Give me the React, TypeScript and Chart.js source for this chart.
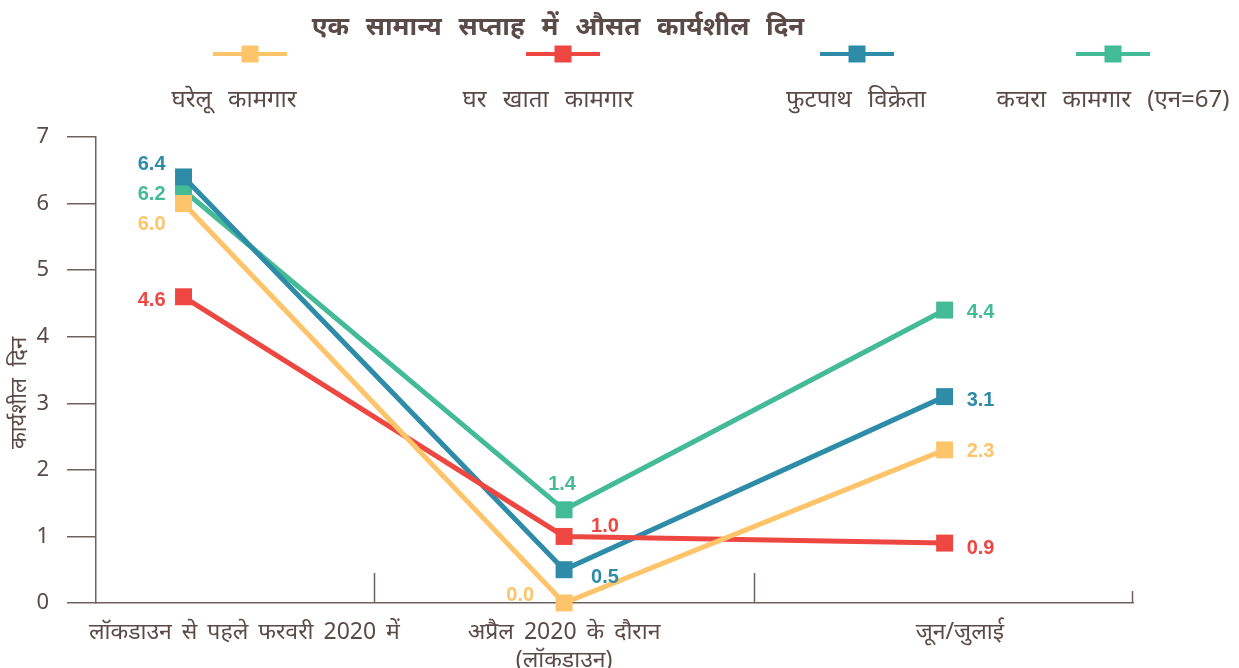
import React, { useEffect, useRef } from "react";
import { Chart, registerables } from "chart.js";

Chart.register(...registerables);

// ---------- data ----------
const chartTitle = "एक सामान्य सप्ताह में औसत कार्यशील दिन";
const yAxisTitle = "कार्यशील दिन";
const categories: string[][] = [
  ["लॉकडाउन से पहले फरवरी 2020 में"],
  ["अप्रैल 2020 के दौरान", "(लॉकडाउन)"],
  ["जून/जुलाई"],
];
const seriesNames = ["घरेलू कामगार", "घर खाता कामगार", "फुटपाथ विक्रेता", "कचरा कामगार (एन=67)"];
const domesticWorkers = [6.0, 0.0, 2.3];
const homeBasedWorkers = [4.6, 1.0, 0.9];
const streetVendors = [6.4, 0.5, 3.1];
const wastePickers = [6.2, 1.4, 4.4];
const yTickValues = [0, 1, 2, 3, 4, 5, 6, 7];

// ---------- style ----------
const colors = ["#FEC46A", "#EE4742", "#2E8CA8", "#44BB97"];
const textColor = "#5B4B48";
const axisColor = "#6E6260";
const FONT = "'Noto Sans', 'Noto Sans Devanagari', 'Lohit Devanagari', sans-serif";
const LABEL_FONT = "'Liberation Sans', Arial, sans-serif";
// label placement in category units (x) for the category tick labels
const categoryLabelPositions = [0.16, 1, 2.04];
// legend layout (pixels)
const legendMarkerX = [250, 563, 857, 1113];
const legendTextX = [234, 548, 856, 1113];
// data-label offsets [dx, dy, align] per series per point
const labelOffsets: [number, number, CanvasTextAlign][][] = [
  [[-18, 21, "right"], [-30, -8, "right"], [22, 2, "left"]],
  [[-18, 4, "right"], [27, -10, "left"], [22, 5, "left"]],
  [[-18, -12, "right"], [27, 8, "left"], [22, 4, "left"]],
  [[-18, 4, "right"], [-2, -25, "center"], [22, 2, "left"]],
];

const allSeries = [domesticWorkers, homeBasedWorkers, streetVendors, wastePickers];

const spacingPlugin = {
  id: "spacing",
  beforeDraw(chart: any) {
    (chart.ctx as any).wordSpacing = "4px";
  },
};

const overlayPlugin = {
  id: "overlay",
  afterDraw(chart: any) {
    const ctx: any = chart.ctx;
    const xs = chart.scales.x;
    const ys = chart.scales.y;
    ctx.save();

    // category separators
    ctx.strokeStyle = axisColor;
    ctx.lineWidth = 1.5;
    [0.5, 1.5].forEach((v) => {
      const px = Math.round(xs.getPixelForValue(v)) + 0.5;
      ctx.beginPath();
      ctx.moveTo(px, ys.bottom - 30);
      ctx.lineTo(px, ys.bottom);
      ctx.stroke();
    });
    const pe = Math.round(xs.right) - 0.5;
    ctx.beginPath();
    ctx.moveTo(pe, ys.bottom - 12);
    ctx.lineTo(pe, ys.bottom);
    ctx.stroke();

    // data labels
    ctx.wordSpacing = "0px";
    ctx.font = `bold 20px ${LABEL_FONT}`;
    ctx.textBaseline = "middle";
    chart.data.datasets.forEach((ds: any, di: number) => {
      const meta = chart.getDatasetMeta(di);
      meta.data.forEach((pt: any, pi: number) => {
        const [dx, dy, align] = labelOffsets[di][pi];
        ctx.fillStyle = colors[di];
        ctx.textAlign = align;
        ctx.fillText(allSeries[di][pi].toFixed(1), pt.x + dx, pt.y + dy);
      });
    });

    // title
    ctx.fillStyle = textColor;
    ctx.wordSpacing = "10px";
    ctx.font = `bold 26px ${FONT}`;
    ctx.textAlign = "center";
    ctx.fillText(chartTitle, 558, 28);

    // legend
    seriesNames.forEach((name, i) => {
      const cx = legendMarkerX[i];
      ctx.strokeStyle = colors[i];
      ctx.lineWidth = 4;
      ctx.beginPath();
      ctx.moveTo(cx - 37, 54);
      ctx.lineTo(cx + 37, 54);
      ctx.stroke();
      ctx.fillStyle = colors[i];
      ctx.fillRect(cx - 8.5, 54 - 8.5, 17, 17);
      ctx.fillStyle = textColor;
      ctx.wordSpacing = "10px";
      ctx.font = `24px ${FONT}`;
      ctx.textAlign = "center";
      ctx.fillText(name, legendTextX[i], 100);
    });

    // y-axis title
    ctx.save();
    ctx.translate(20, 393);
    ctx.rotate(-Math.PI / 2);
    ctx.wordSpacing = "6px";
    ctx.font = `22px ${FONT}`;
    ctx.fillStyle = textColor;
    ctx.textAlign = "center";
    ctx.fillText(yAxisTitle, 0, 0);
    ctx.restore();

    ctx.restore();
  },
};

export default function App() {
  const ref = useRef<HTMLCanvasElement | null>(null);

  useEffect(() => {
    if (!ref.current) return;
    const datasets = allSeries.map((vals, i) => ({
      label: seriesNames[i],
      data: vals.map((v, j) => ({ x: j, y: v })),
      borderColor: colors[i],
      backgroundColor: colors[i],
      borderWidth: 5,
      pointStyle: "rect" as const,
      pointRadius: 12,
      pointBorderWidth: 0,
      pointBackgroundColor: colors[i],
      tension: 0,
      clip: false as any,
    }));

    const chart = new Chart(ref.current, {
      type: "line",
      data: { datasets },
      options: {
        animation: false,
        responsive: false,
        events: [],
        layout: { padding: { top: 137, right: 106, left: 0, bottom: 0 } },
        plugins: { legend: { display: false }, tooltip: { enabled: false } },
        scales: {
          x: {
            type: "linear",
            min: -0.23,
            max: 2.495,
            afterBuildTicks: (s: any) => {
              s.ticks = categoryLabelPositions.map((v) => ({ value: v }));
            },
            afterFit: (s: any) => {
              s.height = 65;
            },
            ticks: {
              autoSkip: false,
              maxRotation: 0,
              minRotation: 0,
              padding: 16,
              color: textColor,
              font: { family: FONT, size: 23 },
              callback: (_v: any, i: number) => categories[i] as any,
            },
            grid: { display: true, drawOnChartArea: false, drawTicks: false, color: "rgba(0,0,0,0)" },
            border: { display: true, color: axisColor, width: 1.5 },
          },
          y: {
            min: 0,
            max: 7,
            afterBuildTicks: (s: any) => {
              s.ticks = yTickValues.map((v) => ({ value: v }));
            },
            afterFit: (s: any) => {
              s.width = 96;
            },
            ticks: {
              padding: 18,
              color: textColor,
              font: { family: FONT, size: 22 },
            },
            grid: { drawOnChartArea: false, tickLength: 29, color: axisColor, lineWidth: 1.5 },
            border: { display: true, color: axisColor, width: 1.5 },
          },
        },
      },
      plugins: [spacingPlugin, overlayPlugin],
    });
    return () => chart.destroy();
  }, []);

  return (
    <div style={{ position: "fixed", left: 0, top: 0, width: 1239, height: 668, background: "#fff" }}>
      <canvas ref={ref} width={1239} height={668} style={{ display: "block" }} />
    </div>
  );
}
